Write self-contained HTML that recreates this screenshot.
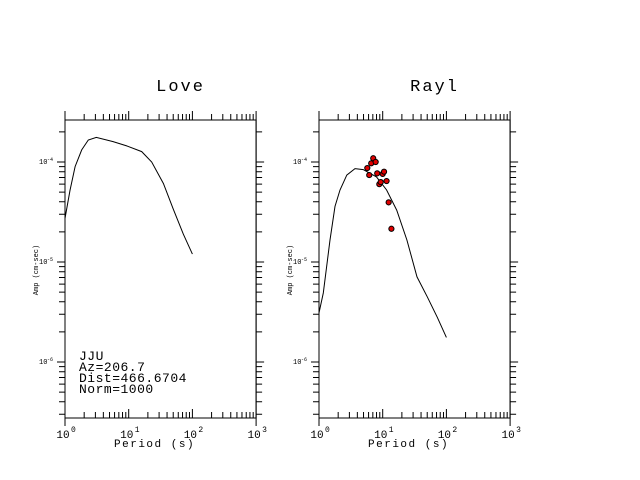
<!DOCTYPE html>
<html><head><meta charset="utf-8"><style>
html,body{margin:0;padding:0;background:#fff;}
svg{display:block;font-family:"Liberation Mono",monospace;}
</style></head><body>
<svg id="chart" width="640" height="480" viewBox="0 0 640 480" xmlns="http://www.w3.org/2000/svg"></svg>
<script>
const lovePeriods=[1,1.2,1.44,1.83,2.32,3.1,5.7,9.3,16,23,35,50,72,100];
const loveAmps=[2.73e-5,5.2e-5,9.0e-5,1.32e-4,1.66e-4,1.76e-4,1.6e-4,1.45e-4,1.27e-4,1.0e-4,6.1e-5,3.4e-5,1.9e-5,1.2e-5];
const raylPeriods=[1,1.17,1.49,1.78,2.14,2.73,3.67,4.95,8.0,11.5,16.6,24,34.5,50,72,100];
const raylAmps=[3.1e-6,4.9e-6,1.66e-5,3.6e-5,5.25e-5,7.4e-5,8.6e-5,8.4e-5,7.1e-5,5.25e-5,3.3e-5,1.66e-5,7.1e-6,4.5e-6,2.8e-6,1.76e-6];
const obsPeriods=[5.73,6.15,6.6,7.1,7.75,8.2,8.85,9.3,10.0,10.5,11.5,12.4,13.7];
const obsAmps=[8.7e-5,7.4e-5,9.7e-5,1.09e-4,1.0e-4,7.7e-5,6.0e-5,6.3e-5,7.6e-5,8.0e-5,6.45e-5,3.95e-5,2.15e-5];
const xTickLabels=["0","1","2","3"];
const yTickLabels=["-4","-5","-6"];

const NS="http://www.w3.org/2000/svg";
const svg=document.getElementById('chart');
function el(tag,attrs,parent){const e=document.createElementNS(NS,tag);for(const k in attrs)e.setAttribute(k,attrs[k]);(parent||svg).appendChild(e);return e;}
const TOP=120,BOT=418,YPD=100,XPD=63.7;
function panel(x0,name,title,periods,amps,obsP,obsA){
  const g=el('g',{});
  
  
  const x1=x0+3*XPD;
  const X=p=>x0+Math.log10(p)*XPD;
  const Y=a=>162+(-4-Math.log10(a))*YPD;
  const t=el('text',{x:(x0+x1)/2+20,y:91,'font-size':17,'text-anchor':'middle','letter-spacing':'2'},g);
  t.textContent=title;
  
  
  const box=el('rect',{x:x0,y:TOP,width:x1-x0,height:BOT-TOP,fill:'none',stroke:'#000','stroke-width':1},g);
  
  
  el('line',{x1:x0,y1:111,x2:x0,y2:426,stroke:'#000'},g);
  el('line',{x1:x1,y1:111,x2:x1,y2:426,stroke:'#000'},g);
  let d='';
  for(let dec=0;dec<3;dec++){for(let m=2;m<=9;m++){const x=X(m*Math.pow(10,dec));d+=`M${x},${TOP}v-6M${x},${BOT}v-6`;}}
  for(let dec=1;dec<3;dec++){const x=X(Math.pow(10,dec));d+=`M${x},${TOP}v-9M${x},${BOT}v-9`;}
  for(let e=-7;e<=-3;e++){for(let m=1;m<=9;m++){const a=m*Math.pow(10,e);const y=Y(a);if(y<TOP+1||y>BOT-1)continue;const L=m==1?8:6;d+=`M${x0},${y}h-${L}M${x1},${y}h${L}`;}}
  const ticks=el('path',{d:d,stroke:'#000','stroke-width':1,fill:'none'},g);
  
  
  xTickLabels.forEach((lab,i)=>{
    const tx=el('text',{x:X(Math.pow(10,i))-2,y:438,'font-size':11,'text-anchor':'middle'},g);
    tx.textContent='10';
    
    
    const sp=el('text',{x:X(Math.pow(10,i))+6,y:432,'font-size':8},g);
    sp.textContent=lab;
  });
  yTickLabels.forEach((lab,i)=>{
    const y=Y(Math.pow(10,-4-i));
    const tx=el('text',{x:x0-26,y:y+2,'font-size':7},g);
    tx.textContent='10';
    
    
    const sp=el('text',{x:x0-18,y:y-1,'font-size':5},g);
    sp.textContent=lab;
  });
  const xl=el('text',{x:(x0+x1)/2-6,y:447,'font-size':11,'text-anchor':'middle','letter-spacing':'1.5'},g);
  xl.textContent='Period (s)';
  
  
  const yl=el('text',{x:0,y:0,'font-size':7,'text-anchor':'middle',transform:`translate(${x0-27},270) rotate(-90)`},g);
  yl.textContent='Amp (cm-sec)';
  
  
  const pts=periods.map((p,i)=>X(p).toFixed(1)+','+Y(amps[i]).toFixed(1)).join(' ');
  const line=el('polyline',{points:pts,fill:'none',stroke:'#000','stroke-width':1},g);
  
  
  if(obsP){obsP.forEach((p,i)=>{
    const c=el('circle',{cx:X(p),cy:Y(obsA[i]),r:2.6,fill:'#e00000',stroke:'#000','stroke-width':1},g);
    
    
  });}
}
panel(65,'love','Love',lovePeriods,loveAmps,null,null);
panel(319,'rayl','Rayl',raylPeriods,raylAmps,obsPeriods,obsAmps);
const info=["JJU","Az=206.7","Dist=466.6704","Norm=1000"];
const ig=el('g',{});


info.forEach((s,i)=>{const t=el('text',{x:79,y:360+i*11,'font-size':13,'letter-spacing':'0.5'},ig);t.textContent=s;});
</script>
</body></html>
